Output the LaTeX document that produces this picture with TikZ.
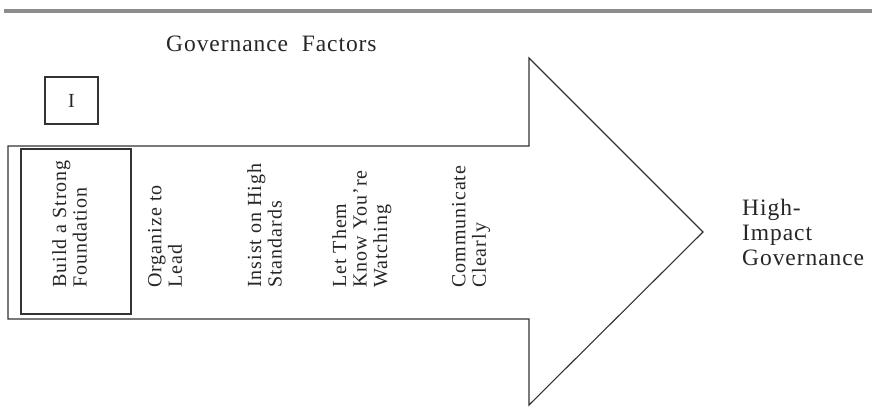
\documentclass[tikz,border=0pt]{standalone}
\usepackage{fontspec}
\setmainfont{Liberation Serif}
\newfontfamily\titlefont[LetterSpace=4]{Liberation Serif}
\newfontfamily\labfont[LetterSpace=5]{Liberation Serif}
\begin{document}
\begin{tikzpicture}[x=1pt,y=-1pt,
  edge/.style={draw=black!80, line width=1.1pt},
  factor/.style={rotate=90, anchor=north west, inner sep=0pt, align=left,
    font=\labfont\fontsize{20}{20.5}\selectfont, text=black!85},
  bigtext/.style={inner sep=0pt, align=left, font=\titlefont\fontsize{23.5}{25}\selectfont, text=black!85}]
\useasboundingbox (0,0) rectangle (872,419);
% top bar
\draw[line width=4pt, draw=black!45] (4,11) -- (872,11);
% title
\node[bigtext, anchor=base west] (title) at (166,52) {Governance\ \ Factors};
% I box
\node[edge, minimum width=53pt, minimum height=47pt, inner sep=0pt,
  font=\fontsize{20}{22}\selectfont, text=black!85] (ibox) at (71.5,100.5) {I};
% arrow
\draw[edge, line join=miter] (8,146) -- (529,146) -- (529,58) -- (703,232)
  -- (529,405) -- (529,319) -- (8,319) -- cycle;
% inner box
\draw[edge] (21,149) rectangle (131,314);
% factors
\node[factor] (f1) at (52,288) {Build a Strong\\Foundation};
\node[factor] (f2) at (148,288) {Organize to\\Lead};
\node[factor] (f3) at (247,288) {Insist on High\\Standards};
\node[factor] (f4) at (332,288) {Let Them\\Know You’re\\Watching};
\node[factor] (f5) at (452,288) {Communicate\\Clearly};
% result
\node[bigtext, anchor=base west] (res) at (742,266) {High-\\Impact\\Governance};
\end{tikzpicture}
\end{document}
